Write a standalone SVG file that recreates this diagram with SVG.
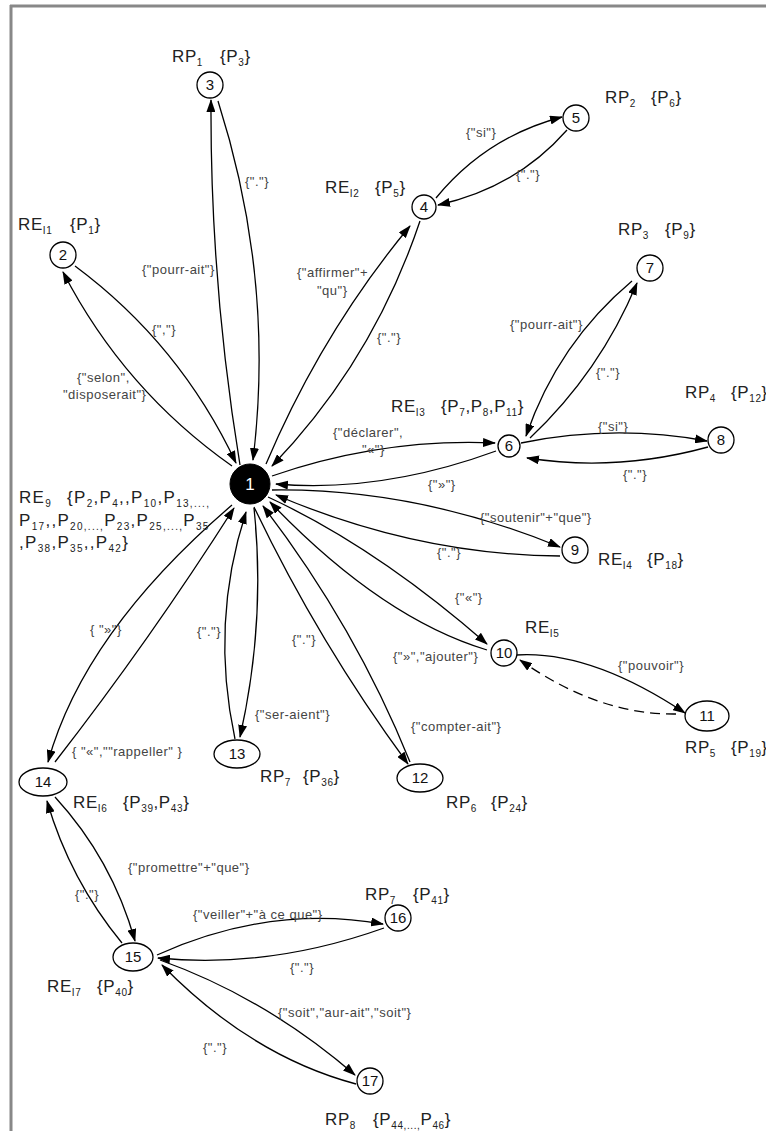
<svg xmlns="http://www.w3.org/2000/svg" width="766" height="1131" viewBox="0 0 766 1131">
<style>
.e{fill:none;stroke:#000;stroke-width:1.3}
.d{stroke-dasharray:10,6}
.n{fill:#fff;stroke:#000;stroke-width:1.3}
.nt{font-family:"Liberation Sans",Arial,sans-serif;font-size:15px;text-anchor:middle;fill:#111}
.lb{font-family:"Liberation Sans",Arial,sans-serif;font-size:17px;fill:#222;letter-spacing:0.6px}
.wide{letter-spacing:1.3px}
.sb{font-size:10px}
.el{font-family:"Liberation Sans",Arial,sans-serif;font-size:13px;fill:#444;letter-spacing:0.5px}
</style>
<defs>
<marker id="a" markerWidth="13" markerHeight="9" refX="12" refY="4.5" orient="auto" markerUnits="userSpaceOnUse"><path d="M0,0 L13,4.5 L0,9 z" fill="#000"/></marker>
</defs>
<rect width="766" height="1131" fill="#fff"/>
<g id="frame" stroke="#888" stroke-width="3">
<line x1="11" y1="5" x2="11" y2="1131"/>
<line x1="10" y1="6" x2="766" y2="6"/>
</g>
<g id="connectors">
<path class="e" marker-end="url(#a)" d="M232,466 Q124,390 63,272"/>
<path class="e" marker-end="url(#a)" d="M75,266 Q180,344 236,463"/>
<path class="e" marker-end="url(#a)" d="M240,465 Q210,282 211,100"/>
<path class="e" marker-end="url(#a)" d="M218,101 Q275,280 253,460"/>
<path class="e" marker-end="url(#a)" d="M266,464 Q322,332 410,226"/>
<path class="e" marker-end="url(#a)" d="M420,221 Q373,361 272,466"/>
<path class="e" marker-end="url(#a)" d="M436,198 Q486,137 562,117"/>
<path class="e" marker-end="url(#a)" d="M567,130 Q516,188 438,205"/>
<path class="e" marker-end="url(#a)" d="M272,476 Q382,438 495,443"/>
<path class="e" marker-end="url(#a)" d="M496,451 Q381,493 276,484"/>
<path class="e" marker-end="url(#a)" d="M632,281 Q558,343 526,436"/>
<path class="e" marker-end="url(#a)" d="M530,438 Q600,372 637,283"/>
<path class="e" marker-end="url(#a)" d="M521,443 Q614,424 707,441"/>
<path class="e" marker-end="url(#a)" d="M708,447 Q617,472 527,458"/>
<path class="e" marker-end="url(#a)" d="M272,490 Q416,488 560,547"/>
<path class="e" marker-end="url(#a)" d="M560,556 Q417,555 276,495"/>
<path class="e" marker-end="url(#a)" d="M268,497 Q376,547 487,644"/>
<path class="e" marker-end="url(#a)" d="M487,650 Q381,618 270,502"/>
<path class="e" marker-end="url(#a)" d="M254,507 Q319,643 408,764"/>
<path class="e" marker-end="url(#a)" d="M410,762 Q355,626 263,506"/>
<path class="e" marker-end="url(#a)" d="M254,508 Q266,622 240,737"/>
<path class="e" marker-end="url(#a)" d="M235,739 Q210,623 246,512"/>
<path class="e" marker-end="url(#a)" d="M232,505 Q84,632 48,762"/>
<path class="e" marker-end="url(#a)" d="M55,762 Q150,640 234,508"/>
<path class="e" marker-end="url(#a)" d="M55,797 Q112,859 135,941"/>
<path class="e" marker-end="url(#a)" d="M122,943 Q70,880 47,801"/>
<path class="e" marker-end="url(#a)" d="M157,955 Q270,904 383,924"/>
<path class="e" marker-end="url(#a)" d="M384,928 Q269,969 158,958"/>
<path class="e" marker-end="url(#a)" d="M160,960 Q266,998 355,1075"/>
<path class="e" marker-end="url(#a)" d="M356,1084 Q251,1056 162,965"/>
<path class="e" marker-end="url(#a)" d="M516,655 Q590,650 685,713"/>
<path class="e d" marker-end="url(#a)" d="M676,714 Q598,715 520,660"/>
</g>
<g id="edge-labels" class="el">
<text x="152" y="334">{","}</text>
<text x="77" y="382">{"selon",</text>
<text x="63" y="399">"disposerait"}</text>
<text x="142" y="274">{"pourr-ait"}</text>
<text x="245" y="186">{"."}</text>
<text x="297" y="277">{"affirmer"+</text>
<text x="317" y="295">"qu"}</text>
<text x="377" y="342">{"."}</text>
<text x="466" y="137">{"si"}</text>
<text x="516" y="179">{"."}</text>
<text x="333" y="437">{"déclarer",</text>
<text x="362" y="454">"«"}</text>
<text x="428" y="489">{"»"}</text>
<text x="510" y="329">{"pourr-ait"}</text>
<text x="596" y="377">{"."}</text>
<text x="598" y="431">{"si"}</text>
<text x="623" y="479">{"."}</text>
<text x="480" y="522">{"soutenir"+"que"}</text>
<text x="437" y="557">{"."}</text>
<text x="455" y="602">{"«"}</text>
<text x="393" y="661">{"»","ajouter"}</text>
<text x="618" y="670">{"pouvoir"}</text>
<text x="411" y="731">{"compter-ait"}</text>
<text x="292" y="644">{"."}</text>
<text x="197" y="636">{"."}</text>
<text x="255" y="719">{"ser-aient"}</text>
<text x="90" y="634">{ "»"}</text>
<text x="72" y="756">{ "«",""rappeller" }</text>
<text x="128" y="872">{"promettre"+"que"}</text>
<text x="75" y="899">{"."}</text>
<text x="193" y="919">{"veiller"+"à ce que"}</text>
<text x="290" y="972">{"."}</text>
<text x="278" y="1017">{"soit","aur-ait","soit"}</text>
<text x="203" y="1052">{"."}</text>
</g>
<g id="node-1"><circle cx="250" cy="484" r="20" fill="#000" stroke="#000"/><text class="nt" x="250" y="490" style="fill:#fff;font-size:17px">1</text>
<text class="lb wide" x="19" y="503">RE<tspan class="sb" dy="4">9</tspan><tspan x="67" dy="-4">{P</tspan><tspan class="sb" dy="4">2</tspan><tspan dy="-4">,P</tspan><tspan class="sb" dy="4">4</tspan><tspan dy="-4">,,P</tspan><tspan class="sb" dy="4">10</tspan><tspan dy="-4">,P</tspan><tspan class="sb" dy="4">13,...,</tspan></text>
<text class="lb wide" x="19" y="526">P<tspan class="sb" dy="4">17</tspan><tspan dy="-4">,,P</tspan><tspan class="sb" dy="4">20,...,</tspan><tspan dy="-4">P</tspan><tspan class="sb" dy="4">23</tspan><tspan dy="-4">,P</tspan><tspan class="sb" dy="4">25,...,</tspan><tspan dy="-4">P</tspan><tspan class="sb" dy="4">35</tspan></text>
<text class="lb wide" x="19" y="548">,P<tspan class="sb" dy="4">38</tspan><tspan dy="-4">,P</tspan><tspan class="sb" dy="4">35</tspan><tspan dy="-4">,,P</tspan><tspan class="sb" dy="4">42</tspan><tspan dy="-4">}</tspan></text>
</g>
<g id="node-2"><circle class="n" cx="63" cy="255" r="13"/><text class="nt" x="63" y="260">2</text>
<text class="lb" x="18" y="230">RE<tspan class="sb" dy="4">I1</tspan><tspan x="70" dy="-4">{P</tspan><tspan class="sb" dy="4">1</tspan><tspan dy="-4">}</tspan></text></g>
<g id="node-3"><circle class="n" cx="210" cy="85" r="13"/><text class="nt" x="210" y="90">3</text>
<text class="lb" x="172" y="62">RP<tspan class="sb" dy="4">1</tspan><tspan x="220" dy="-4">{P</tspan><tspan class="sb" dy="4">3</tspan><tspan dy="-4">}</tspan></text></g>
<g id="node-4"><circle class="n" cx="424" cy="207" r="12"/><text class="nt" x="424" y="212">4</text>
<text class="lb" x="325" y="193">RE<tspan class="sb" dy="4">I2</tspan><tspan x="375" dy="-4">{P</tspan><tspan class="sb" dy="4">5</tspan><tspan dy="-4">}</tspan></text></g>
<g id="node-5"><circle class="n" cx="576" cy="118" r="13"/><text class="nt" x="576" y="123">5</text>
<text class="lb" x="605" y="103">RP<tspan class="sb" dy="4">2</tspan><tspan x="651" dy="-4">{P</tspan><tspan class="sb" dy="4">6</tspan><tspan dy="-4">}</tspan></text></g>
<g id="node-6"><circle class="n" cx="509" cy="446" r="11"/><text class="nt" x="509" y="451">6</text>
<text class="lb" x="391" y="412">RE<tspan class="sb" dy="4">I3</tspan><tspan x="441" dy="-4">{P</tspan><tspan class="sb" dy="4">7</tspan><tspan dy="-4">,P</tspan><tspan class="sb" dy="4">8</tspan><tspan dy="-4">,P</tspan><tspan class="sb" dy="4">11</tspan><tspan dy="-4">}</tspan></text></g>
<g id="node-7"><circle class="n" cx="650" cy="268" r="13"/><text class="nt" x="650" y="273">7</text>
<text class="lb" x="618" y="235">RP<tspan class="sb" dy="4">3</tspan><tspan x="665" dy="-4">{P</tspan><tspan class="sb" dy="4">9</tspan><tspan dy="-4">}</tspan></text></g>
<g id="node-8"><circle class="n" cx="721" cy="440" r="13"/><text class="nt" x="721" y="445">8</text>
<text class="lb" x="685" y="398">RP<tspan class="sb" dy="4">4</tspan><tspan x="731" dy="-4">{P</tspan><tspan class="sb" dy="4">12</tspan><tspan dy="-4">}</tspan></text></g>
<g id="node-9"><circle class="n" cx="575" cy="550" r="13"/><text class="nt" x="575" y="555">9</text>
<text class="lb" x="598" y="565">RE<tspan class="sb" dy="4">I4</tspan><tspan x="647" dy="-4">{P</tspan><tspan class="sb" dy="4">18</tspan><tspan dy="-4">}</tspan></text></g>
<g id="node-10"><circle class="n" cx="504" cy="653" r="13"/><text class="nt" x="504" y="658">10</text>
<text class="lb" x="525" y="633">RE<tspan class="sb" dy="4">I5</tspan></text></g>
<g id="node-11"><ellipse class="n" cx="707" cy="716" rx="22" ry="15"/><text class="nt" x="707" y="721">11</text>
<text class="lb" x="685" y="753">RP<tspan class="sb" dy="4">5</tspan><tspan x="731" dy="-4">{P</tspan><tspan class="sb" dy="4">19</tspan><tspan dy="-4">}</tspan></text></g>
<g id="node-12"><ellipse class="n" cx="420" cy="778" rx="23" ry="14"/><text class="nt" x="420" y="783">12</text>
<text class="lb" x="446" y="808">RP<tspan class="sb" dy="4">6</tspan><tspan x="491" dy="-4">{P</tspan><tspan class="sb" dy="4">24</tspan><tspan dy="-4">}</tspan></text></g>
<g id="node-13"><ellipse class="n" cx="237" cy="754" rx="23" ry="14"/><text class="nt" x="237" y="759">13</text>
<text class="lb" x="260" y="782">RP<tspan class="sb" dy="4">7</tspan><tspan x="303" dy="-4">{P</tspan><tspan class="sb" dy="4">36</tspan><tspan dy="-4">}</tspan></text></g>
<g id="node-14"><ellipse class="n" cx="43" cy="782" rx="24" ry="14"/><text class="nt" x="43" y="787">14</text>
<text class="lb" x="73" y="808">RE<tspan class="sb" dy="4">I6</tspan><tspan x="123" dy="-4">{P</tspan><tspan class="sb" dy="4">39</tspan><tspan dy="-4">,P</tspan><tspan class="sb" dy="4">43</tspan><tspan dy="-4">}</tspan></text></g>
<g id="node-15"><ellipse class="n" cx="133" cy="957" rx="20" ry="14"/><text class="nt" x="133" y="962">15</text>
<text class="lb" x="47" y="992">RE<tspan class="sb" dy="4">I7</tspan><tspan x="97" dy="-4">{P</tspan><tspan class="sb" dy="4">40</tspan><tspan dy="-4">}</tspan></text></g>
<g id="node-16"><circle class="n" cx="398" cy="918" r="13"/><text class="nt" x="398" y="923">16</text>
<text class="lb" x="365" y="900">RP<tspan class="sb" dy="4">7</tspan><tspan x="413" dy="-4">{P</tspan><tspan class="sb" dy="4">41</tspan><tspan dy="-4">}</tspan></text></g>
<g id="node-17"><circle class="n" cx="370" cy="1081" r="13"/><text class="nt" x="370" y="1086">17</text>
<text class="lb" x="325" y="1125">RP<tspan class="sb" dy="4">8</tspan><tspan x="373" dy="-4">{P</tspan><tspan class="sb" dy="4">44,...,</tspan><tspan dy="-4">P</tspan><tspan class="sb" dy="4">46</tspan><tspan dy="-4">}</tspan></text></g>
</svg>
